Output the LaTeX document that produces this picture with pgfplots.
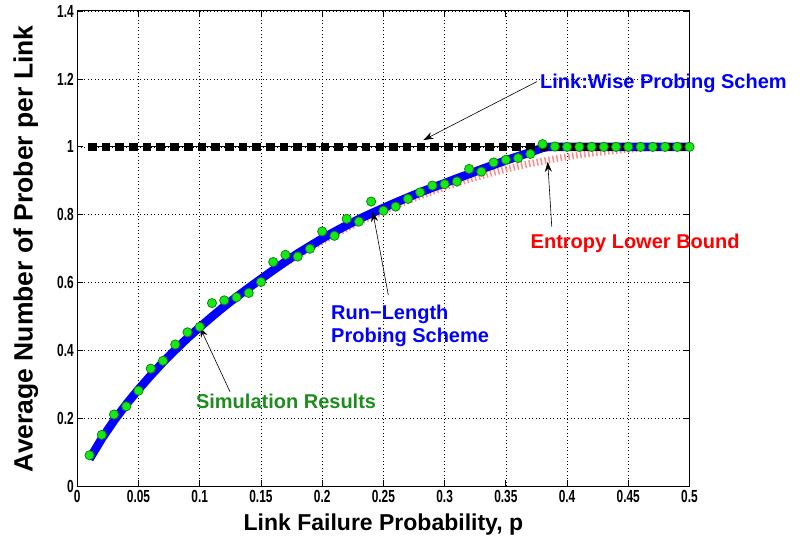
\documentclass[border=0pt]{standalone}
\usepackage{pgfplots}
\pgfplotsset{compat=1.18}
\usepackage{fontspec}
\setmainfont{Liberation Sans}
\newfontfamily\narrowfont[FakeStretch=0.68]{Liberation Sans}
\usetikzlibrary{arrows.meta}
\definecolor{mblue}{RGB}{0,0,255}
\definecolor{mred}{RGB}{255,0,0}
\definecolor{mpink}{RGB}{255,140,140}
\definecolor{mgreenfill}{RGB}{20,235,20}
\definecolor{mgreenedge}{RGB}{20,130,20}
\definecolor{mgreentext}{RGB}{30,140,30}
\begin{document}
\begin{tikzpicture}
\useasboundingbox (0,0) rectangle (800pt,540pt);
\begin{axis}[
  at={(77.3pt,53.5pt)}, anchor=south west,
  scale only axis, width=612.2pt, height=475.5pt,
  xmin=0, xmax=0.5, ymin=0, ymax=1.4,
  xtick={0,0.05,0.1,0.15,0.2,0.25,0.3,0.35,0.4,0.45,0.5},
  xticklabels={0,0.05,0.1,0.15,0.2,0.25,0.3,0.35,0.4,0.45,0.5},
  ytick={0,0.2,0.4,0.6,0.8,1,1.2,1.4},
  yticklabels={0,0.2,0.4,0.6,0.8,1,1.2,1.4},
  tick align=inside, tick pos=both,
  major tick length=6pt,
  tick style={black, line width=0.8pt},
  axis line style={black, line width=1pt},
  grid=major,
  major grid style={black, line width=0.6pt, dash pattern=on 1pt off 2.5pt},
  ticklabel style={font=\narrowfont\bfseries\fontsize{17.5}{17.5}\selectfont},
  /pgf/number format/assume math mode=true,
  xlabel={Link Failure Probability, p},
  ylabel={Average Number of Prober per Link},
  xlabel style={font=\bfseries\fontsize{23}{23}\selectfont, yshift=-5pt},
  ylabel style={font=\bfseries\fontsize{26.5}{26.5}\selectfont, yshift=12pt},
  clip=false,
]
% Entropy lower bound
\addplot[mpink, line width=7pt, dash pattern=on 1.5pt off 2.5pt] coordinates {
(0.01,0.0808)(0.02,0.1414)(0.03,0.1944)(0.04,0.2423)(0.05,0.2864)
(0.06,0.3274)(0.07,0.3659)(0.08,0.4022)(0.09,0.4365)(0.10,0.4690)
(0.11,0.4999)(0.12,0.5294)(0.13,0.5574)(0.14,0.5842)(0.15,0.6098)
(0.16,0.6343)(0.17,0.6577)(0.18,0.6801)(0.19,0.7015)(0.20,0.7219)
(0.21,0.7415)(0.22,0.7602)(0.23,0.7780)(0.24,0.7950)(0.25,0.8113)
(0.26,0.8267)(0.27,0.8415)(0.28,0.8555)(0.29,0.8687)(0.30,0.8813)
(0.31,0.8932)(0.32,0.9044)(0.33,0.9149)(0.34,0.9248)(0.35,0.9341)
(0.36,0.9427)(0.37,0.9507)(0.38,0.9580)(0.39,0.9648)(0.40,0.9710)
(0.41,0.9765)(0.42,0.9815)(0.43,0.9858)(0.44,0.9896)(0.45,0.9928)
(0.46,0.9954)(0.47,0.9974)(0.48,0.9988)(0.49,0.9997)(0.50,1.0000)
};
% Run-length probing scheme
\addplot[mblue, line width=8.5pt, line join=round] coordinates {
(0.01,0.081)(0.02,0.141)(0.03,0.194)(0.04,0.242)(0.05,0.286)
(0.06,0.327)(0.07,0.366)(0.08,0.402)(0.09,0.437)(0.10,0.469)
(0.11,0.500)(0.12,0.530)(0.13,0.558)(0.14,0.585)(0.15,0.611)
(0.16,0.637)(0.17,0.662)(0.18,0.686)(0.19,0.708)(0.20,0.730)
(0.21,0.750)(0.22,0.769)(0.23,0.787)(0.24,0.804)(0.25,0.820)
(0.26,0.836)(0.27,0.851)(0.28,0.866)(0.29,0.880)(0.30,0.893)
(0.31,0.907)(0.32,0.920)(0.33,0.934)(0.34,0.947)(0.35,0.960)
(0.36,0.972)(0.37,0.984)(0.38,0.997)(0.385,1.000)(0.50,1.000)
};
% Link-wise probing scheme
\addplot[black, line width=0.8pt, mark=square*, mark size=3.8pt,
  mark options={solid, fill=black}] coordinates {
(0.0122,1)(0.0234,1)(0.0346,1)(0.0457,1)(0.0569,1)(0.0681,1)(0.0793,1)
(0.0905,1)(0.1016,1)(0.1128,1)(0.1240,1)(0.1352,1)(0.1464,1)(0.1575,1)
(0.1687,1)(0.1799,1)(0.1911,1)(0.2023,1)(0.2134,1)(0.2246,1)(0.2358,1)
(0.2470,1)(0.2582,1)(0.2693,1)(0.2805,1)(0.2917,1)(0.3029,1)(0.3141,1)
(0.3252,1)(0.3364,1)(0.3476,1)(0.3588,1)(0.3700,1)(0.3811,1)(0.3923,1)
(0.4035,1)(0.4147,1)(0.4259,1)(0.4370,1)(0.4482,1)(0.4594,1)(0.4706,1)
(0.4818,1)(0.4929,1)
};
% Simulation results
\addplot[only marks, mark=*, mark size=4.6pt,
  mark options={fill=mgreenfill, draw=mgreenedge, line width=0.8pt}] coordinates {
(0.01,0.092)(0.02,0.152)(0.03,0.212)(0.04,0.236)(0.05,0.282)
(0.06,0.347)(0.07,0.370)(0.08,0.418)(0.09,0.454)(0.10,0.470)
(0.11,0.540)(0.12,0.548)(0.13,0.557)(0.14,0.570)(0.15,0.602)
(0.16,0.661)(0.17,0.682)(0.18,0.677)(0.19,0.700)(0.20,0.751)
(0.21,0.738)(0.22,0.788)(0.23,0.780)(0.24,0.839)(0.25,0.812)
(0.26,0.824)(0.27,0.847)(0.28,0.866)(0.29,0.886)(0.30,0.890)
(0.31,0.898)(0.32,0.935)(0.33,0.927)(0.34,0.954)(0.35,0.962)
(0.36,0.967)(0.37,0.979)(0.38,1.008)(0.39,1.001)(0.40,1.000)
(0.41,1.000)(0.42,1.000)(0.43,1.000)(0.44,1.000)(0.45,1.000)
(0.46,1.000)(0.47,1.000)(0.48,1.000)(0.49,1.000)(0.50,1.000)
};
% annotations
\draw[black, line width=0.6pt, -{Stealth[length=10pt,width=7pt]}] (axis cs:0.3753,1.192) -- (axis cs:0.2827,1.020);
\node[anchor=west, text=mblue, font=\bfseries\fontsize{20}{22}\selectfont, inner sep=0pt] at (axis cs:0.3779,1.188) {Link:Wise Probing Schem};
\draw[black, line width=0.6pt, -{Stealth[length=10pt,width=7pt]}] (axis cs:0.3875,0.765) -- (axis cs:0.3842,0.956);
\node[text=mred, font=\bfseries\fontsize{20}{22}\selectfont, inner sep=0pt] at (axis cs:0.4556,0.717) {Entropy Lower Bound};
\draw[black, line width=0.6pt, -{Stealth[length=10pt,width=7pt]}] (axis cs:0.2540,0.564) -- (axis cs:0.2413,0.809);
\node[anchor=west, align=left, text=mblue, font=\bfseries\fontsize{20}{23}\selectfont, inner sep=0pt] at (axis cs:0.2072,0.474) {Run−Length\\Probing Scheme};
\draw[black, line width=0.6pt, -{Stealth[length=10pt,width=7pt]}] (axis cs:0.1247,0.279) -- (axis cs:0.1002,0.4688);
\node[text=mgreentext, font=\bfseries\fontsize{20}{22}\selectfont, inner sep=0pt] at (axis cs:0.1705,0.250) {Simulation Results};
\end{axis}
\end{tikzpicture}
\end{document}
